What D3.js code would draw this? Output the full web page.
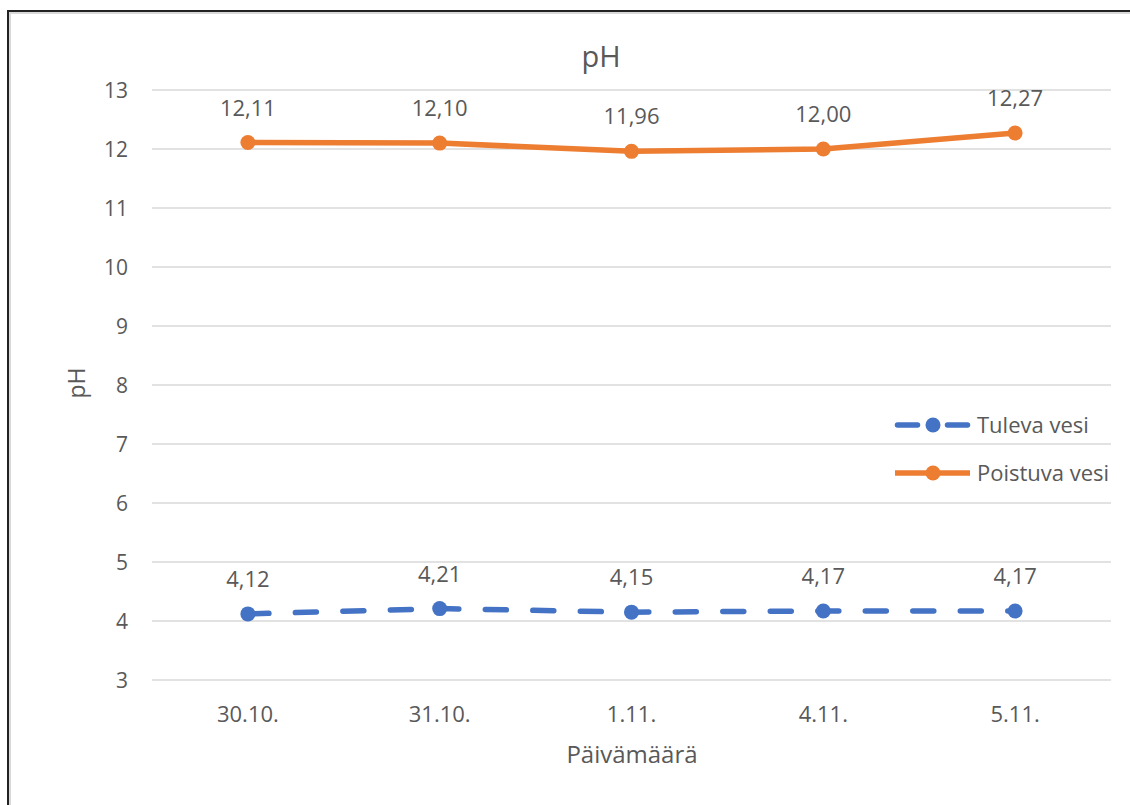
<!DOCTYPE html>
<html>
<head>
<meta charset="utf-8">
<script src="https://cdn.jsdelivr.net/npm/d3@7"></script>
<style>
  html, body { margin: 0; padding: 0; background: #fff; }
  svg { display: block; }
  text { font-family: "Open Sans", "Noto Sans", sans-serif; fill: #595959; }
</style>
</head>
<body>
<svg id="chart" width="1130" height="805"></svg>
<script>
// pH measurements per day
const dates = ["30.10.", "31.10.", "1.11.", "4.11.", "5.11."];
const tulevaVesi = [4.12, 4.21, 4.15, 4.17, 4.17];
const poistuvaVesi = [12.11, 12.10, 11.96, 12.00, 12.27];
const yTicks = [3, 4, 5, 6, 7, 8, 9, 10, 11, 12, 13];
const seriesNames = ["Tuleva vesi", "Poistuva vesi"];

const svg = d3.select("#chart");
const W = 1130, H = 805;
const FONT = '"Open Sans", "Noto Sans", sans-serif';

// frame
svg.append("rect").attr("x", 0).attr("y", 0).attr("width", W).attr("height", H).attr("fill", "#fff");
svg.append("line").attr("x1", 9).attr("x2", W).attr("y1", 13).attr("y2", 13).attr("stroke", "#d9d9d9").attr("stroke-width", 2);
svg.append("line").attr("x1", 10).attr("x2", 10).attr("y1", 12).attr("y2", H).attr("stroke", "#d9d9d9").attr("stroke-width", 2);
svg.append("line").attr("x1", 7).attr("x2", W).attr("y1", 11).attr("y2", 11).attr("stroke", "#222").attr("stroke-width", 2);
svg.append("line").attr("x1", 8).attr("x2", 8).attr("y1", 10).attr("y2", H).attr("stroke", "#222").attr("stroke-width", 2);

const plotLeft = 152, plotRight = 1111, plotTop = 90, plotBottom = 680;

const x = d3.scaleBand().domain(dates).range([plotLeft, plotRight]);
const y = d3.scaleLinear().domain([3, 13]).range([plotBottom, plotTop]);
const cx = d => x(d) + x.bandwidth() / 2;

// gridlines
svg.append("g").selectAll("line").data(yTicks).join("line")
  .attr("x1", plotLeft).attr("x2", plotRight)
  .attr("y1", d => y(d)).attr("y2", d => y(d))
  .attr("stroke", "#d9d9d9").attr("stroke-width", 1.5);

// y axis labels
const yAxis = d3.axisLeft(y).tickValues(yTicks).tickSize(0).tickPadding(0).tickFormat(d3.format("d"));
const gy = svg.append("g").attr("transform", `translate(${plotLeft - 24},0)`).call(yAxis);
gy.select(".domain").remove();
gy.selectAll("text").attr("font-size", 21).attr("fill", "#595959").attr("dy", "0.36em")
  .style("font-family", FONT);

// x axis labels
const xAxis = d3.axisBottom(x).tickSize(0).tickPadding(0);
const gx = svg.append("g").attr("transform", `translate(0,${plotBottom})`).call(xAxis);
gx.select(".domain").remove();
gx.selectAll("text").attr("font-size", 22).attr("fill", "#595959").attr("y", 42).attr("dy", 0)
  .style("font-family", FONT);

// titles
svg.append("text").attr("x", 601).attr("y", 67).attr("text-anchor", "middle")
  .attr("font-size", 29).text("pH");
svg.append("text").attr("x", 632).attr("y", 763).attr("text-anchor", "middle")
  .attr("font-size", 24).text("Päivämäärä");
svg.append("text").attr("transform", "translate(85,383) rotate(-90)").attr("text-anchor", "middle")
  .attr("font-size", 23).text("pH");

const fmt = v => d3.format(".2f")(v).replace(".", ",");
const line = d3.line().x((d, i) => cx(dates[i])).y(d => y(d));

const series = [
  { name: seriesNames[0], values: tulevaVesi, color: "#4472C4", dash: "21,26.5" },
  { name: seriesNames[1], values: poistuvaVesi, color: "#ED7D31", dash: null }
];

series.forEach(s => {
  svg.append("path").datum(s.values).attr("d", line)
    .attr("fill", "none").attr("stroke", s.color).attr("stroke-width", 5.5)
    .attr("stroke-linecap", s.dash ? "round" : "butt")
    .attr("stroke-linejoin", "round")
    .attr("stroke-dasharray", s.dash);
  svg.append("g").selectAll("circle").data(s.values).join("circle")
    .attr("cx", (d, i) => cx(dates[i])).attr("cy", d => y(d)).attr("r", 7.5)
    .attr("fill", s.color);
  svg.append("g").selectAll("text").data(s.values).join("text")
    .attr("x", (d, i) => cx(dates[i])).attr("y", d => y(d) - 27)
    .attr("text-anchor", "middle").attr("font-size", 22).text(d => fmt(d));
});

// legend
const legend = svg.append("g");
series.forEach((s, i) => {
  const ly = 425 + i * 48;
  legend.append("line").attr("x1", s.dash ? 897.5 : 895).attr("x2", s.dash ? 967.5 : 970)
    .attr("y1", ly).attr("y2", ly)
    .attr("stroke", s.color).attr("stroke-width", 5.5)
    .attr("stroke-linecap", s.dash ? "round" : "butt")
    .attr("stroke-dasharray", s.dash ? "20,30" : null);
  legend.append("circle").attr("cx", 933).attr("cy", ly).attr("r", 7.5).attr("fill", s.color);
  legend.append("text").attr("x", 977).attr("y", ly).attr("dy", "0.36em")
    .attr("font-size", 22).text(s.name);
});
</script>
</body>
</html>
